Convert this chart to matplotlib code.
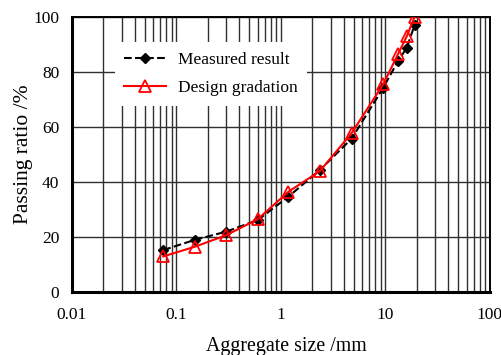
import matplotlib
matplotlib.use("Agg")
import matplotlib.pyplot as plt
from matplotlib.ticker import FixedLocator, LogLocator, NullFormatter

# sieve sizes (mm) and passing ratios (%)
sieve_sizes = [0.075, 0.15, 0.3, 0.6, 1.18, 2.36, 4.75, 9.5, 13.2, 16, 19]
measured = [15.3, 19.0, 22.0, 26.2, 34.7, 44.4, 55.8, 74.2, 84.0, 88.8, 97.0]
design = [13.0, 16.5, 20.7, 26.5, 36.5, 44.0, 57.8, 75.5, 86.5, 93.0, 100.0]

x_ticks = [0.01, 0.1, 1, 10, 100]
x_tick_labels = ["0.01", "0.1", "1", "10", "100"]
y_ticks = [0, 20, 40, 60, 80, 100]

plt.rcParams["font.family"] = ["Liberation Serif", "DejaVu Serif"]

fig = plt.figure(figsize=(5.02, 3.55), dpi=100)
ax = fig.add_axes([0.143, 0.177, 0.833, 0.775])

ax.set_xscale("log")
ax.set_xlim(0.01, 100)
ax.set_ylim(0, 100)

ax.plot(sieve_sizes, measured, color="black", linestyle="--", linewidth=1.5,
        marker="D", markersize=5, markerfacecolor="black",
        markeredgecolor="black", label="Measured result", zorder=3)
ax.plot(sieve_sizes, design, color="red", linestyle="-", linewidth=1.5,
        marker="^", markersize=8, markerfacecolor="none",
        markeredgecolor="red", markeredgewidth=1.3,
        label="Design gradation", zorder=4)

ax.xaxis.set_major_locator(FixedLocator(x_ticks))
ax.set_xticklabels(x_tick_labels)
ax.xaxis.set_minor_locator(LogLocator(base=10, subs=range(2, 10)))
ax.xaxis.set_minor_formatter(NullFormatter())
ax.set_yticks(y_ticks)

ax.grid(True, which="major", axis="both", color="#303030", linewidth=1.0)
ax.grid(True, which="minor", axis="x", color="#303030", linewidth=1.0)
ax.set_axisbelow(True)

ax.tick_params(axis="both", which="both", direction="in", length=0,
               labelsize=12.5)
ax.tick_params(axis="x", pad=11)
ax.tick_params(axis="y", pad=9)
ax.spines["left"].set_linewidth(2.2)
ax.spines["bottom"].set_linewidth(2.2)
ax.spines["top"].set_linewidth(1.4)
ax.spines["right"].set_linewidth(1.4)

ax.set_xlabel("Aggregate size /mm", fontsize=14.3, labelpad=10)
ax.xaxis.label.set_x(0.512)
ax.set_ylabel("Passing ratio /%", fontsize=15.5, labelpad=0)

leg = ax.legend(loc="upper left", bbox_to_anchor=(0.082, 0.94), fontsize=12.5,
                frameon=True, fancybox=False, framealpha=1,
                edgecolor="white", handlelength=2.4, handletextpad=0.7,
                borderpad=0.55, labelspacing=0.7)
leg.get_frame().set_linewidth(0)

fig.savefig("out.png", dpi=100)
